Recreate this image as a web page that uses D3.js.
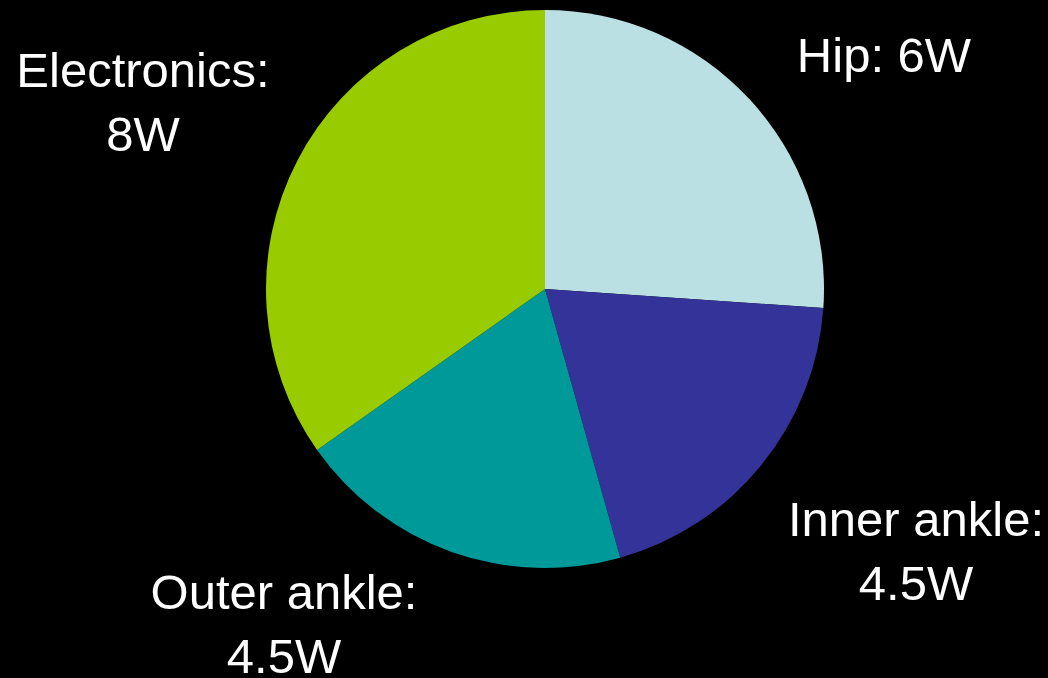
<!DOCTYPE html>
<html>
<head>
<meta charset="utf-8">
<script src="https://cdn.jsdelivr.net/npm/d3@7"></script>
<style>
  html, body { margin: 0; padding: 0; background: #000; }
  svg { display: block; }
</style>
</head>
<body>
<svg id="chart" width="1048" height="678"></svg>
<script>
const categories = ["Hip", "Inner ankle", "Outer ankle", "Electronics"];
const values = [6, 4.5, 4.5, 8];
const labelLines = [["Hip: 6W"], ["Inner ankle:", "4.5W"], ["Outer ankle:", "4.5W"], ["Electronics:", "8W"]];
const colors = ["#BAE0E3", "#333399", "#009999", "#99CC00"];

// layout (not data)
const cx = 545, cy = 289, R = 279;
const labelPos = [
  {x: 884, y: 72},
  {x: 916, y: 536},
  {x: 284, y: 609},
  {x: 143, y: 87}
];
const lineH = 64;

const svg = d3.select("#chart");
svg.append("rect").attr("width", 1048).attr("height", 678).attr("fill", "#000");

const pie = d3.pie().sort(null).value(d => d.v);
const arcs = pie(categories.map((c, i) => ({c, v: values[i], i})));
const arc = d3.arc().innerRadius(0).outerRadius(R);
const color = d3.scaleOrdinal().domain(categories).range(colors);

const g = svg.append("g").attr("transform", `translate(${cx},${cy})`);
g.selectAll("path").data(arcs).join("path")
  .attr("d", arc)
  .attr("fill", d => color(d.data.c));

const labels = svg.append("g")
  .attr("font-family", "Liberation Sans, Arial, sans-serif")
  .attr("font-size", 49)
  .attr("fill", "#fff")
  .attr("text-anchor", "middle");

categories.forEach((c, i) => {
  const t = labels.append("text");
  labelLines[i].forEach((line, j) => {
    t.append("tspan").attr("x", labelPos[i].x).attr("y", labelPos[i].y + j * lineH).text(line);
  });
});
</script>
</body>
</html>
